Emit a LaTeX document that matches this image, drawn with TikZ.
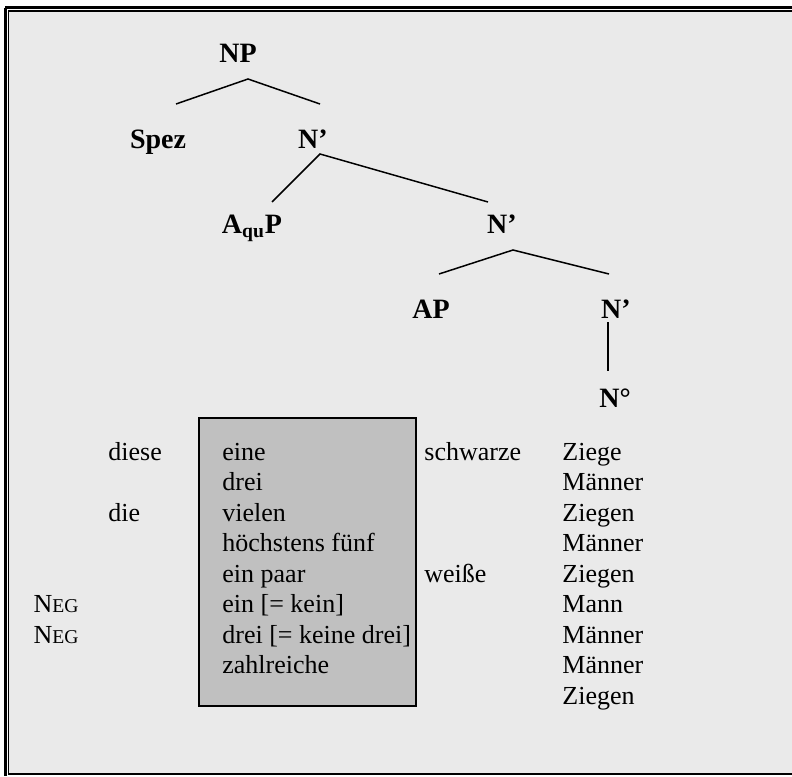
\documentclass[tikz,border=0pt]{standalone}
\usepackage{fontspec}
\setmainfont{Liberation Serif}
\definecolor{panelgray}{HTML}{EAEAEA}
\definecolor{quantgray}{HTML}{C0C0C0}

\begin{document}
\begin{tikzpicture}[x=0.5pt,y=-0.5pt,
    cat/.style={anchor=base,inner sep=0,font=\fontsize{14pt}{14pt}\selectfont\bfseries},
    word/.style={anchor=base west,inner sep=0,font=\fontsize{13pt}{13pt}\selectfont},
    branch/.style={line width=0.75pt,black}]
            \useasboundingbox (0,0) rectangle (792,776);
            % frame
            \fill [white] (0,0) rectangle (792,776);
            \draw [line width=1.35pt, black] (5.3,7.8) -- (792,7.8);
            \draw [line width=1.35pt, black] (5.3,7.8) -- (5.3,776);
            \fill [panelgray] (8.7,10.9) rectangle (792,774);
            \draw [line width=0.65pt, black] (792,10.9) -- (8.7,10.9) -- (8.7,774) -- (792,774);
            % tree
            \node [cat] (np) at (238,62) {NP};
            \node [cat] (spez) at (158,148) {Spez};
            \node [cat] (nbar1) at (313,148) {N’};
            \node [cat] (aqup) at (252,233) {A\textsubscript{qu}P};
            \node [cat] (nbar2) at (502,233) {N’};
            \node [cat] (ap) at (431,318) {AP};
            \node [cat] (nbar3) at (616,318) {N’};
            \node [cat] (nzero) at (615,407) {N°};
            \draw [branch] ([shift={(18,-44)}]spez.base) -- ([shift={(10,17)}]np.base) -- ([shift={(7,-44)}]nbar1.base);
            \draw [branch] ([shift={(20,-31)}]aqup.base) -- ([shift={(7,6)}]nbar1.base) -- ([shift={(-14,-31)}]nbar2.base);
            \draw [branch] ([shift={(8,-44)}]ap.base) -- ([shift={(11,17)}]nbar2.base) -- ([shift={(-7,-44)}]nbar3.base);
            \draw [branch] ([shift={(-8,4)}]nbar3.base) -- ([shift={(-7,-36)}]nzero.base);
            % grey box of quantifiers
            \filldraw [fill=quantgray, line width=0.75pt, draw=black] (199,418) rectangle (416,706);
            % determiners
            \node [word] (diese) at (108,460) {diese};
            \node [word] (die) at (108,521) {die};
            \node [word,anchor=base east] (neg1) at (79,612.5) {N{\fontsize{9.8pt}{10pt}\selectfont EG}};
            \node [word,anchor=base east] (neg2) at (79,643) {N{\fontsize{9.8pt}{10pt}\selectfont EG}};
            % quantifiers
            \node [word] (q1) at (222,460) {eine};
            \node [word] (q2) at (222,490.5) {drei};
            \node [word] (q3) at (222,521) {vielen};
            \node [word] (q4) at (222,551.5) {höchstens fünf};
            \node [word] (q5) at (222,582) {ein paar};
            \node [word] (q6) at (222,612.5) {ein [= kein]};
            \node [word] (q7) at (222,643) {drei [= keine drei]};
            \node [word] (q8) at (222,673.5) {zahlreiche};
            % adjectives
            \node [word] (schwarze) at (424,460) {schwarze};
            \node [word] (weisse) at (424,582) {weiße};
            % nouns
            \node [word] (n1) at (562,460) {Ziege};
            \node [word] (n2) at (562,490.5) {Männer};
            \node [word] (n3) at (562,521) {Ziegen};
            \node [word] (n4) at (562,551.5) {Männer};
            \node [word] (n5) at (562,582) {Ziegen};
            \node [word] (n6) at (562,612.5) {Mann};
            \node [word] (n7) at (562,643) {Männer};
            \node [word] (n8) at (562,673.5) {Männer};
            \node [word] (n9) at (562,704) {Ziegen};
\end{tikzpicture}
\end{document}
